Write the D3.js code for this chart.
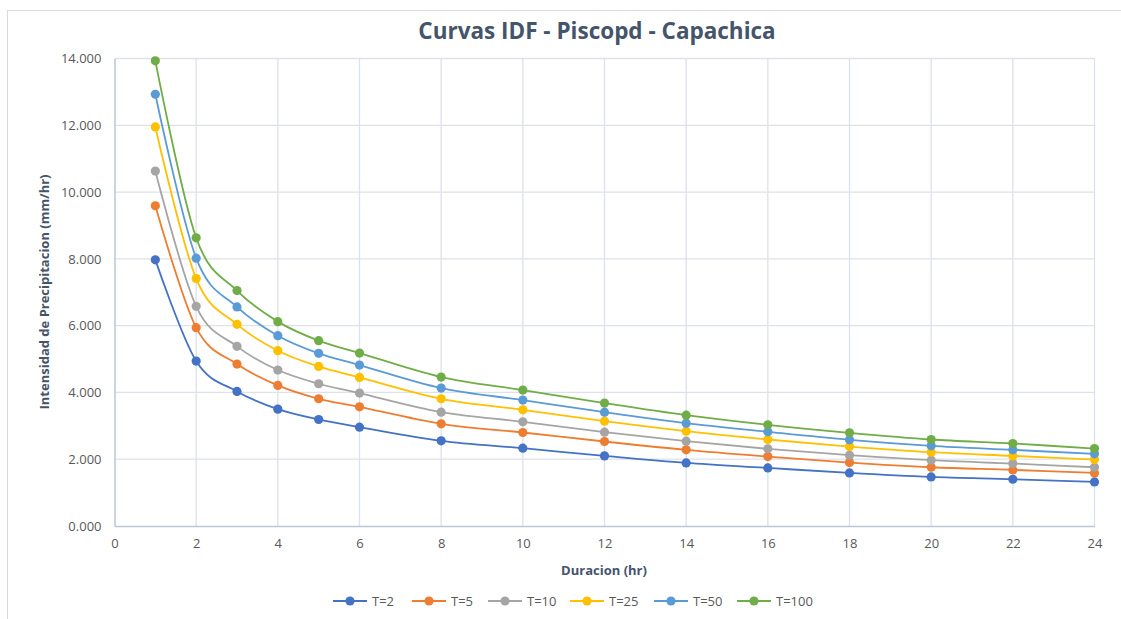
<!DOCTYPE html>
<html>
<head>
<meta charset="utf-8">
<script src="https://cdn.jsdelivr.net/npm/d3@7"></script>
<style>
  html, body { margin: 0; padding: 0; background: #fff; }
  svg { display: block; font-family: "Open Sans", "Noto Sans", sans-serif; }
</style>
</head>
<body>
<svg id="chart" width="1121" height="619"></svg>
<script>
// Duration (hr) and intensity (mm/hr) for each return period
const durations = [1, 2, 3, 4, 5, 6, 8, 10, 12, 14, 16, 18, 20, 22, 24];
const seriesNames = ["T=2", "T=5", "T=10", "T=25", "T=50", "T=100"];
const t2   = [7.97, 4.94, 4.03, 3.50, 3.19, 2.96, 2.55, 2.33, 2.10, 1.89, 1.74, 1.59, 1.47, 1.40, 1.32];
const t5   = [9.59, 5.94, 4.85, 4.21, 3.81, 3.57, 3.06, 2.80, 2.53, 2.28, 2.08, 1.90, 1.76, 1.68, 1.59];
const t10  = [10.63, 6.58, 5.38, 4.67, 4.26, 3.98, 3.41, 3.12, 2.81, 2.54, 2.31, 2.12, 1.97, 1.87, 1.76];
const t25  = [11.95, 7.41, 6.04, 5.25, 4.78, 4.45, 3.81, 3.48, 3.14, 2.84, 2.59, 2.38, 2.21, 2.10, 1.99];
const t50  = [12.93, 8.02, 6.56, 5.70, 5.17, 4.82, 4.13, 3.77, 3.41, 3.08, 2.82, 2.58, 2.40, 2.28, 2.16];
const t100 = [13.93, 8.63, 7.05, 6.12, 5.55, 5.18, 4.46, 4.07, 3.68, 3.32, 3.03, 2.79, 2.59, 2.47, 2.32];
const xTicks = [0, 2, 4, 6, 8, 10, 12, 14, 16, 18, 20, 22, 24];
const yTicks = [0, 2, 4, 6, 8, 10, 12, 14];
const colors = ["#4472C4", "#ED7D31", "#A5A5A5", "#FFC000", "#5B9BD5", "#70AD47"];

const series = [t2, t5, t10, t25, t50, t100].map((vals, i) => ({
  name: seriesNames[i],
  color: colors[i],
  points: durations.map((d, j) => ({ x: d, y: vals[j] }))
}));

const svg = d3.select("#chart");
const plot = { left: 114.5, right: 1094.5, top: 58.5, bottom: 526 };

// outer chart frame
svg.append("rect")
  .attr("x", 7.5).attr("y", 10.5)
  .attr("width", 1130).attr("height", 640)
  .attr("fill", "none").attr("stroke", "#d9d9d9");

const x = d3.scaleLinear().domain([0, 24]).range([plot.left, plot.right]);
const y = d3.scaleLinear().domain([0, 14]).range([plot.bottom, plot.top]);

// gridlines
const grid = svg.append("g").attr("stroke", "#dde1e9").attr("stroke-width", 1.3);
grid.selectAll("line.h").data(yTicks.filter(v => v > 0)).join("line")
  .attr("x1", plot.left).attr("x2", plot.right)
  .attr("y1", d => y(d)).attr("y2", d => y(d));
grid.selectAll("line.v").data(xTicks.filter(v => v > 0)).join("line")
  .attr("y1", plot.top).attr("y2", plot.bottom)
  .attr("x1", d => x(d)).attr("x2", d => x(d));

// axes
const xAxis = svg.append("g")
  .attr("transform", `translate(0,${plot.bottom})`)
  .call(d3.axisBottom(x).tickValues(xTicks).tickSize(0).tickPadding(13).tickFormat(d3.format("d")));
const yAxis = svg.append("g")
  .attr("transform", `translate(${plot.left},0)`)
  .call(d3.axisLeft(y).tickValues(yTicks).tickSize(0).tickPadding(13).tickFormat(d => d3.format(".3f")(d)));
[xAxis, yAxis].forEach(g => {
  g.select(".domain").attr("stroke", "#bcc5d6").attr("stroke-width", 1.5);
  g.selectAll("text").attr("fill", "#595959").attr("font-size", 13)
    .attr("font-family", "'Open Sans', sans-serif");
});

// series lines and markers
const line = d3.line().x(d => x(d.x)).y(d => y(d.y)).curve(d3.curveCatmullRom.alpha(0));
const sg = svg.append("g").selectAll("g").data(series).join("g");
sg.append("path")
  .attr("d", d => line(d.points))
  .attr("fill", "none")
  .attr("stroke", d => d.color)
  .attr("stroke-width", 1.8);
sg.each(function(s) {
  d3.select(this).selectAll("circle").data(s.points).join("circle")
    .attr("cx", d => x(d.x)).attr("cy", d => y(d.y)).attr("r", 4.6)
    .attr("fill", s.color);
});

// titles
svg.append("text")
  .attr("x", 597).attr("y", 39).attr("text-anchor", "middle")
  .attr("font-size", 22.5).attr("font-weight", "bold").attr("fill", "#44546A")
  .text("Curvas IDF - Piscopd - Capachica");
svg.append("text")
  .attr("x", 604).attr("y", 575).attr("text-anchor", "middle")
  .attr("font-size", 13).attr("font-weight", "bold").attr("fill", "#44546A")
  .text("Duracion (hr)");
svg.append("text")
  .attr("transform", "translate(49,292) rotate(-90)").attr("text-anchor", "middle")
  .attr("font-size", 13).attr("font-weight", "bold").attr("fill", "#44546A")
  .text("Intensidad de Precipitacion (mm/hr)");

// legend
const legendX = [333, 412, 488, 570, 654, 737];
const lg = svg.append("g").selectAll("g").data(series).join("g")
  .attr("transform", (d, i) => `translate(${legendX[i]},601)`);
lg.append("line").attr("x1", 0).attr("x2", 34).attr("stroke", d => d.color).attr("stroke-width", 1.8);
lg.append("circle").attr("cx", 17).attr("r", 4.6).attr("fill", d => d.color);
lg.append("text").attr("x", 39).attr("y", 5)
  .attr("font-size", 13).attr("fill", "#595959").text(d => d.name);
</script>
</body>
</html>
